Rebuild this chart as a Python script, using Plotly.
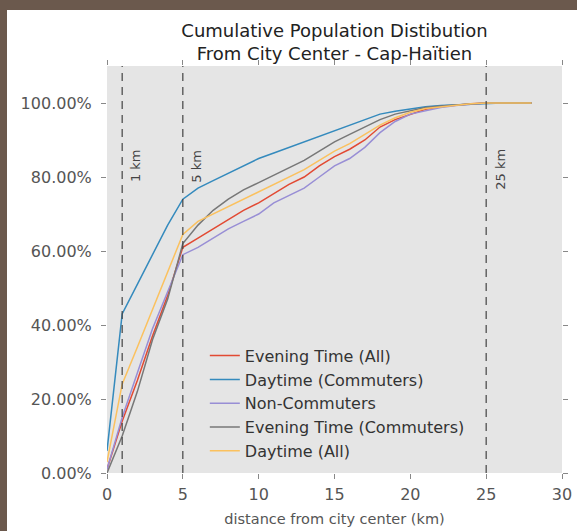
import plotly.graph_objects as go

# distance from city center (km)
distance_km = list(range(0, 29))

# cumulative share of population within distance
evening_all = [0.01, 0.14, 0.25, 0.37, 0.48, 0.61, 0.635, 0.66, 0.685, 0.71,
               0.73, 0.755, 0.78, 0.80, 0.83, 0.855, 0.875, 0.90, 0.935, 0.955,
               0.97, 0.983, 0.99, 0.995, 0.998, 1.0, 1.0, 1.0, 1.0]
daytime_commuters = [0.06, 0.43, 0.51, 0.59, 0.67, 0.74, 0.77, 0.79, 0.81, 0.83,
                     0.85, 0.865, 0.88, 0.895, 0.91, 0.925, 0.94, 0.955, 0.97, 0.978,
                     0.985, 0.99, 0.993, 0.995, 0.998, 1.0, 1.0, 1.0, 1.0]
non_commuters = [0.01, 0.15, 0.27, 0.39, 0.49, 0.59, 0.61, 0.635, 0.66, 0.68,
                 0.70, 0.73, 0.75, 0.77, 0.80, 0.83, 0.85, 0.88, 0.92, 0.95,
                 0.97, 0.98, 0.988, 0.993, 0.997, 1.0, 1.0, 1.0, 1.0]
evening_commuters = [0.0, 0.10, 0.22, 0.36, 0.47, 0.62, 0.67, 0.71, 0.74, 0.765,
                     0.785, 0.805, 0.825, 0.845, 0.87, 0.895, 0.915, 0.935, 0.955, 0.97,
                     0.98, 0.988, 0.992, 0.995, 0.998, 1.0, 1.0, 1.0, 1.0]
daytime_all = [0.03, 0.24, 0.34, 0.44, 0.54, 0.645, 0.68, 0.70, 0.72, 0.74,
               0.76, 0.78, 0.80, 0.82, 0.845, 0.87, 0.89, 0.915, 0.94, 0.96,
               0.975, 0.985, 0.99, 0.995, 0.998, 1.0, 1.0, 1.0, 1.0]

series_names = ["Evening Time (All)", "Daytime (Commuters)", "Non-Commuters",
                "Evening Time (Commuters)", "Daytime (All)"]
series_values = [evening_all, daytime_commuters, non_commuters,
                 evening_commuters, daytime_all]
colors = ["#E24A33", "#348ABD", "#988ED5", "#777777", "#FBC15E"]

marker_km = [1, 5, 25]
marker_labels = ["1 km", "5 km", "25 km"]
marker_label_y = [0.83, 0.83, 0.82]

FONT = "DejaVu Sans"

fig = go.Figure()
for name, vals, col in zip(series_names, series_values, colors):
    fig.add_trace(go.Scatter(x=distance_km, y=vals, mode="lines", name=name,
                             legendgroup=name,
                             line=dict(color=col, width=1.5)))

# dashed reference distances
for km, lab, ly in zip(marker_km, marker_labels, marker_label_y):
    fig.add_shape(type="line", x0=km, x1=km, xref="x", y0=0, y1=1, yref="paper",
                  line=dict(color="#444444", width=1.2, dash="8px,6px"))
    fig.add_annotation(x=km, y=ly, text=lab, textangle=-90, showarrow=False,
                       xshift=14, font=dict(family=FONT, size=13, color="#444444"))

# brown frame strips at top and left edges
fig.add_shape(type="rect", xref="paper", yref="paper", x0=-0.25, x1=-100 / 455,
              y0=-0.2, y1=1.2, fillcolor="#6B594D", line_width=0, layer="above")
fig.add_shape(type="rect", xref="paper", yref="paper", x0=-0.3, x1=1.1,
              y0=(473 - 10) / 407, y1=1.2, fillcolor="#6B594D", line_width=0,
              layer="above")

fig.update_layout(
    width=577, height=531,
    margin=dict(l=107, r=15, t=66, b=58),
    paper_bgcolor="white",
    plot_bgcolor="#E5E5E5",
    font=dict(family=FONT, color="#555555"),
    title=dict(text="Cumulative Population Distibution<br>From City Center - Cap-Haïtien",
               x=0.5, xref="paper", xanchor="center",
               y=1 - 37 / 531, yref="container", yanchor="middle",
               font=dict(family=FONT, size=18, color="#222222")),
    showlegend=True,
    legend=dict(x=0.215, y=0.33, xanchor="left", yanchor="top",
                bgcolor="rgba(0,0,0,0)", tracegroupgap=0,
                font=dict(family=FONT, size=16, color="#333333")),
)
fig.update_xaxes(range=[0, 30], tickvals=[0, 5, 10, 15, 20, 25, 30],
                 showgrid=False, zeroline=False, ticks="outside", ticklen=5,
                 tickcolor="#888888", showline=True, linecolor="white",
                 mirror="ticks", ticklabelstandoff=2, automargin=False,
                 tickfont=dict(size=16, color="#555555"),
                 title=dict(text="distance from city center (km)",
                            font=dict(size=14.5, color="#555555"), standoff=10))
fig.update_yaxes(range=[0, 1.1], tickvals=[0, 0.2, 0.4, 0.6, 0.8, 1.0],
                 tickformat=".2%", showgrid=False, zeroline=False,
                 ticks="outside", ticklen=5, tickcolor="#888888",
                 showline=True, linecolor="white", mirror="ticks",
                 automargin=False, ticklabelstandoff=6,
                 tickfont=dict(size=16, color="#555555"))

fig.write_html("out.html", config={"displayModeBar": False},
               post_script="document.body.style.margin='0';")
